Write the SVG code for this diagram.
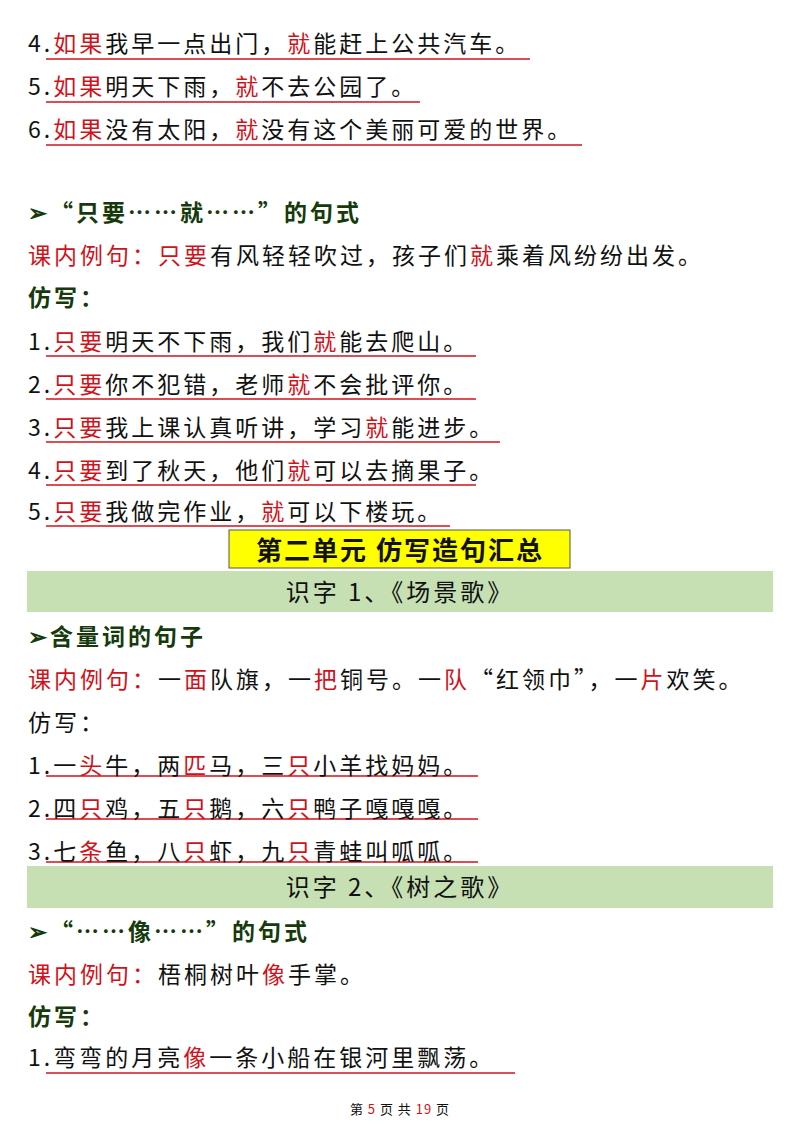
<svg xmlns="http://www.w3.org/2000/svg" width="800" height="1132" viewBox="0 0 800 1132">
<style>
text{font-family:"Noto Sans CJK SC","Liberation Serif",serif;font-size:23px;letter-spacing:3px;fill:#111}
.r{fill:#d0121b}
.g{fill:#163a0c;font-weight:bold}
.u{stroke:#d0121b;stroke-width:1.5}
.c{text-anchor:middle}
</style>
<rect width="800" height="1132" fill="#fff"/>
<g id="lines">
<line class="u" x1="46" y1="59" x2="530" y2="59"/>
<line class="u" x1="46" y1="102" x2="420" y2="102"/>
<line class="u" x1="46" y1="145" x2="582" y2="145"/>
<line class="u" x1="46" y1="356" x2="476" y2="356"/>
<line class="u" x1="46" y1="399" x2="476" y2="399"/>
<line class="u" x1="46" y1="442" x2="500" y2="442"/>
<line class="u" x1="46" y1="485" x2="476" y2="485"/>
<line class="u" x1="46" y1="526" x2="450" y2="526"/>
<line class="u" x1="46" y1="776" x2="478" y2="776"/>
<line class="u" x1="46" y1="819" x2="478" y2="819"/>
<line class="u" x1="46" y1="862" x2="478" y2="862"/>
<line class="u" x1="46" y1="1073" x2="515" y2="1073"/>
</g>
<g id="top">
<text x="28" y="52">4.<tspan class="r">如果</tspan>我早一点出门，<tspan class="r">就</tspan>能赶上公共汽车。</text>
<text x="28" y="95">5.<tspan class="r">如果</tspan>明天下雨，<tspan class="r">就</tspan>不去公园了。</text>
<text x="28" y="138">6.<tspan class="r">如果</tspan>没有太阳，<tspan class="r">就</tspan>没有这个美丽可爱的世界。</text>
</g>
<g id="zhiyao">
<text class="g" x="28" y="221">➢“只要……就……”的句式</text>
<text x="28" y="264"><tspan class="r">课内例句：只要</tspan>有风轻轻吹过，孩子们<tspan class="r">就</tspan>乘着风纷纷出发。</text>
<text class="g" x="28" y="306">仿写：</text>
<text x="28" y="350">1.<tspan class="r">只要</tspan>明天不下雨，我们<tspan class="r">就</tspan>能去爬山。</text>
<text x="28" y="393">2.<tspan class="r">只要</tspan>你不犯错，老师<tspan class="r">就</tspan>不会批评你。</text>
<text x="28" y="436">3.<tspan class="r">只要</tspan>我上课认真听讲，学习<tspan class="r">就</tspan>能进步。</text>
<text x="28" y="479">4.<tspan class="r">只要</tspan>到了秋天，他们<tspan class="r">就</tspan>可以去摘果子。</text>
<text x="28" y="520">5.<tspan class="r">只要</tspan>我做完作业，<tspan class="r">就</tspan>可以下楼玩。</text>
</g>
<g id="unit">
<rect x="229" y="530" width="341" height="38" fill="#ffff00" stroke="#555" stroke-width="1"/>
<text class="c" x="400" y="560" style="font-size:26px;font-weight:bold;letter-spacing:2px">第二单元 仿写造句汇总</text>
</g>
<g id="s1">
<rect x="27" y="571" width="746" height="41" fill="#c6e0b4"/>
<text class="c" x="400" y="601" style="font-size:24px">识字 1、《场景歌》</text>
<text class="g" x="28" y="645">➢含量词的句子</text>
<text x="28" y="688"><tspan class="r">课内例句：</tspan>一<tspan class="r">面</tspan>队旗，一<tspan class="r">把</tspan>铜号。一<tspan class="r">队</tspan>“红领巾”，一<tspan class="r">片</tspan>欢笑。</text>
<text x="28" y="731">仿写：</text>
<text x="28" y="774">1.一<tspan class="r">头</tspan>牛，两<tspan class="r">匹</tspan>马，三<tspan class="r">只</tspan>小羊找妈妈。</text>
<text x="28" y="817">2.四<tspan class="r">只</tspan>鸡，五<tspan class="r">只</tspan>鹅，六<tspan class="r">只</tspan>鸭子嘎嘎嘎。</text>
<text x="28" y="860">3.七<tspan class="r">条</tspan>鱼，八<tspan class="r">只</tspan>虾，九<tspan class="r">只</tspan>青蛙叫呱呱。</text>
</g>
<g id="s2">
<rect x="27" y="866" width="746" height="42" fill="#c6e0b4"/>
<text class="c" x="400" y="896" style="font-size:24px">识字 2、《树之歌》</text>
<text class="g" x="28" y="940">➢“……像……”的句式</text>
<text x="28" y="983"><tspan class="r">课内例句：</tspan>梧桐树叶<tspan class="r">像</tspan>手掌。</text>
<text class="g" x="28" y="1025">仿写：</text>
<text x="28" y="1066">1.弯弯的月亮<tspan class="r">像</tspan>一条小船在银河里飘荡。</text>
</g>
<text class="c" x="400" y="1114" style="font-size:13px;letter-spacing:1px">第 <tspan class="r">5</tspan> 页 共 <tspan class="r">19</tspan> 页</text>
</svg>
